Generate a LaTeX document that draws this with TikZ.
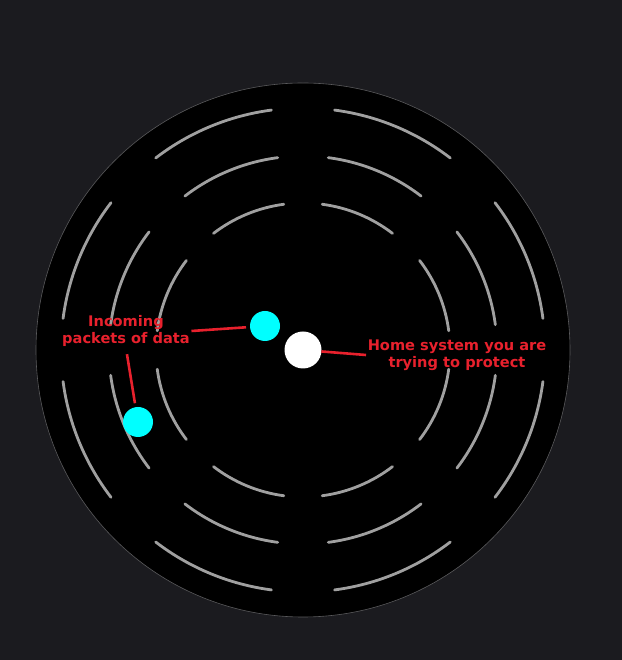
\documentclass[tikz,border=0pt]{standalone}
\usepackage{fontspec}
\usepackage{tikz}
\usetikzlibrary{arrows,shapes}
\newfontfamily\tagfont{DejaVu Sans}
\definecolor{bgcol}{RGB}{27,27,31}
\definecolor{ringcol}{RGB}{160,160,160}
\definecolor{rimcol}{RGB}{90,90,92}
\definecolor{alertred}{RGB}{232,33,45}
\definecolor{packetcyan}{RGB}{0,255,255}

\begin{document}
\begin{tikzpicture}[line join=bevel,
  ring/.style={draw=ringcol,line width=2.8bp,line cap=round},
  wire/.style={draw=alertred,line width=2.6bp},
  tag/.style={text=alertred,align=center,inner sep=1.5bp,font=\tagfont\bfseries\fontsize{14.6bp}{17bp}\selectfont},
  packet/.style={circle,fill=packetcyan,minimum size=30bp,inner sep=0pt,outer sep=0pt}]
%%
\useasboundingbox [fill=bgcol] (0bp,0bp) rectangle (622bp,660bp);
\coordinate (C) at (303bp,310bp);
\draw [draw=rimcol,line width=0.6bp,fill=black] (C) circle (267bp);
%% outer ring
  \draw [ring] (C) ++(7.5:242bp) arc (7.5:37.5:242bp);
  \draw [ring] (C) ++(52.5:242bp) arc (52.5:82.5:242bp);
  \draw [ring] (C) ++(97.5:242bp) arc (97.5:127.5:242bp);
  \draw [ring] (C) ++(142.5:242bp) arc (142.5:172.5:242bp);
  \draw [ring] (C) ++(187.5:242bp) arc (187.5:217.5:242bp);
  \draw [ring] (C) ++(232.5:242bp) arc (232.5:262.5:242bp);
  \draw [ring] (C) ++(277.5:242bp) arc (277.5:307.5:242bp);
  \draw [ring] (C) ++(322.5:242bp) arc (322.5:352.5:242bp);
%% middle ring
  \draw [ring] (C) ++(7.5:194bp) arc (7.5:37.5:194bp);
  \draw [ring] (C) ++(52.5:194bp) arc (52.5:82.5:194bp);
  \draw [ring] (C) ++(97.5:194bp) arc (97.5:127.5:194bp);
  \draw [ring] (C) ++(142.5:194bp) arc (142.5:172.5:194bp);
  \draw [ring] (C) ++(187.5:194bp) arc (187.5:217.5:194bp);
  \draw [ring] (C) ++(232.5:194bp) arc (232.5:262.5:194bp);
  \draw [ring] (C) ++(277.5:194bp) arc (277.5:307.5:194bp);
  \draw [ring] (C) ++(322.5:194bp) arc (322.5:352.5:194bp);
%% inner ring
  \draw [ring] (C) ++(7.5:147bp) arc (7.5:37.5:147bp);
  \draw [ring] (C) ++(52.5:147bp) arc (52.5:82.5:147bp);
  \draw [ring] (C) ++(97.5:147bp) arc (97.5:127.5:147bp);
  \draw [ring] (C) ++(142.5:147bp) arc (142.5:172.5:147bp);
  \draw [ring] (C) ++(187.5:147bp) arc (187.5:217.5:147bp);
  \draw [ring] (C) ++(232.5:147bp) arc (232.5:262.5:147bp);
  \draw [ring] (C) ++(277.5:147bp) arc (277.5:307.5:147bp);
  \draw [ring] (C) ++(322.5:147bp) arc (322.5:352.5:147bp);
%%
\node (home) at (303bp,310bp) [circle,fill=white,minimum size=37bp,inner sep=0pt,outer sep=0pt] {};
  \node (pkA) at (265bp,334bp) [packet] {};
  \node (pkB) at (138bp,238bp) [packet] {};
  \node (incoming) at (126bp,329bp) [tag] {Incoming\\packets of data};
  \node (protect) at (457bp,305bp) [tag] {Home system you are\\trying to protect};
  \draw [wire,shorten >=4bp] (incoming.east) -- (pkA);
  \draw [wire,shorten <=6bp,shorten >=4bp] (incoming.south) -- (pkB);
  \draw [wire] (home) -- (protect.west);
%
\end{tikzpicture}
\end{document}
